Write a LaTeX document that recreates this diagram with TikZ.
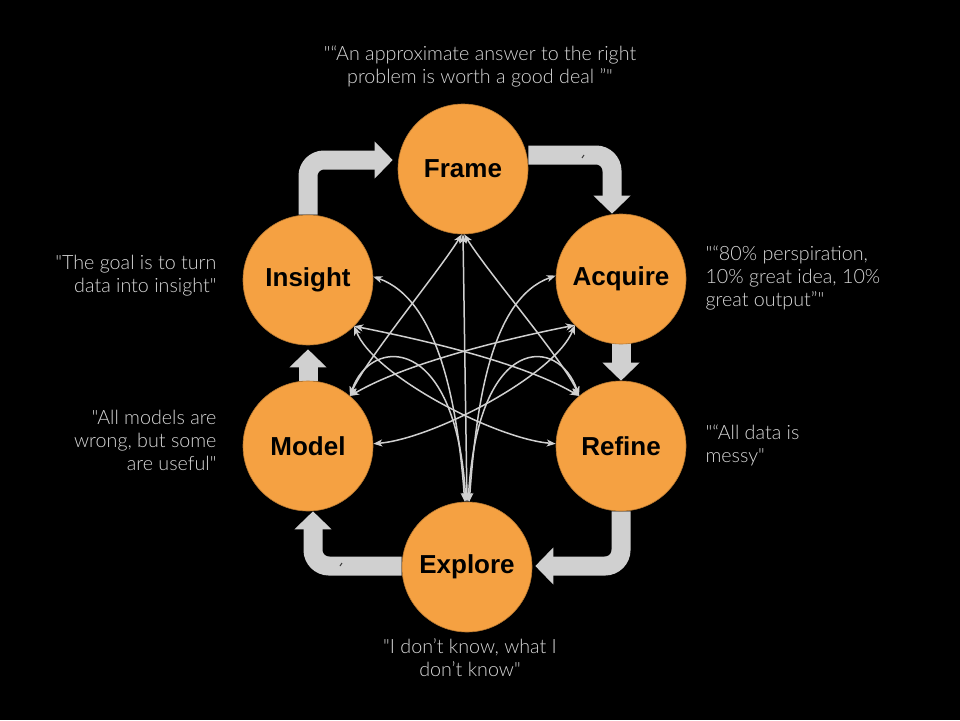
\documentclass[tikz,border=0pt]{standalone}
\usepackage{fontspec}
\setmainfont{Liberation Sans}
\newfontfamily\quotefont{Lato Light}
\usetikzlibrary{arrows.meta}
\definecolor{stageorange}{HTML}{F5A142}
\definecolor{flowgray}{HTML}{D0D0D0}
\definecolor{quotegray}{HTML}{D8D8D8}
\pgfdeclarelayer{canvas}
\pgfdeclarelayer{cycle}
\pgfsetlayers{canvas,cycle,main}
\begin{document}
\begin{tikzpicture}[x=1pt,y=-1pt,
  stage/.style={circle, fill=stageorange, draw=stageorange!75!black, line width=0.6pt,
    minimum size=130pt, inner sep=0pt, text=black,
    font=\fontsize{26}{30}\selectfont\bfseries},
  flow/.style={draw=flowgray, line width=19pt, rounded corners=16pt,
    -{Triangle[length=18pt,width=36pt]}},
  link/.style={draw=flowgray, line width=1.5pt,
    {Stealth[length=9pt,width=7pt,inset=2.5pt]}-{Stealth[length=9pt,width=7pt,inset=2.5pt]}},
  quote/.style={text=quotegray, font=\quotefont\fontsize{19.7}{23}\selectfont},
  nick/.style={draw=black!75, line width=1pt}
]
\useasboundingbox (0,0) rectangle (960,720);
\begin{pgfonlayer}{canvas}
  \fill[black] (0,0) rectangle (960,720);
\end{pgfonlayer}

% stages of the cycle
\node[stage] (frame)   at (463,169) {Frame};
\node[stage] (acquire) at (621,279) {Acquire};
\node[stage] (refine)  at (621,446) {Refine};
\node[stage] (explore) at (467,567) {Explore};
\node[stage] (model)   at (308,446) {Model};
\node[stage] (insight) at (308,280) {Insight};

% main cycle arrows, kept behind the circles
\begin{pgfonlayer}{cycle}
  \draw[flow, shorten >=5pt] (insight.north) |- ([yshift=9pt]frame.west);
  \draw[flow] ([yshift=14pt]frame.east) -| ([xshift=-9pt]acquire.north);
  \draw[flow, shorten <=-2pt] (acquire.south) -- (refine.north);
  \draw[flow, shorten >=3pt] (refine.south) |- ([yshift=1pt]explore.east);
  \draw[flow] ([yshift=1pt]explore.west) -| ([xshift=5pt]model.south);
  \draw[flow, shorten >=4pt] (model.north) -- (insight.south);
  % small marks on two of the arrows
  \draw[nick] (582,158) -- (584,155);
  \draw[nick] (340,566) -- (342,563);
\end{pgfonlayer}

% cross links between the stages
\draw[link] (frame.-90) -- (explore.90);
\draw[link] (frame.-91) .. controls +(-25,40) and +(15,-35) .. (model.50);
\draw[link] (frame.-89) .. controls +(25,40) and +(-15,-35) .. (refine.130);
\draw[link] (insight.3) .. controls +(65,23) and +(-7,-97) .. (explore.92);
\draw[link] (acquire.177) .. controls +(-65,23) and +(7,-97) .. (explore.88);
\draw[link] (insight.-45) .. controls +(60,12) and +(-60,-35) .. (refine.130);
\draw[link] (acquire.-135) .. controls +(-60,12) and +(60,-35) .. (model.50);
\draw[link] (insight.-45) .. controls +(20,50) and +(-60,-5) .. (refine.178);
\draw[link] (acquire.-135) .. controls +(-20,50) and +(60,-5) .. (model.2);
\draw[link] (model.50) .. controls +(20,-60) and +(-10,-170) .. (explore.91);
\draw[link] (refine.130) .. controls +(-20,-60) and +(10,-170) .. (explore.89);

% quotations
\node[quote, align=center] (qframe) at (480,66)
  {"“An approximate answer to the right\\problem is worth a good deal ”"};
\node[quote, align=left, anchor=west] (qacquire) at (702,278)
  {"“80\% perspiration,\\10\% great idea, 10\%\\great output”"};
\node[quote, align=left, anchor=west] (qrefine) at (702,445)
  {"“All data is\\messy"};
\node[quote, align=center] (qexplore) at (470,658)
  {"I don’t know, what I\\don’t know"};
\node[quote, align=right, anchor=east] (qmodel) at (220,440)
  {"All models are\\wrong, but some\\are useful"};
\node[quote, align=right, anchor=east] (qinsight) at (220,276)
  {"The goal is to turn\\data into insight"};
\end{tikzpicture}
\end{document}
